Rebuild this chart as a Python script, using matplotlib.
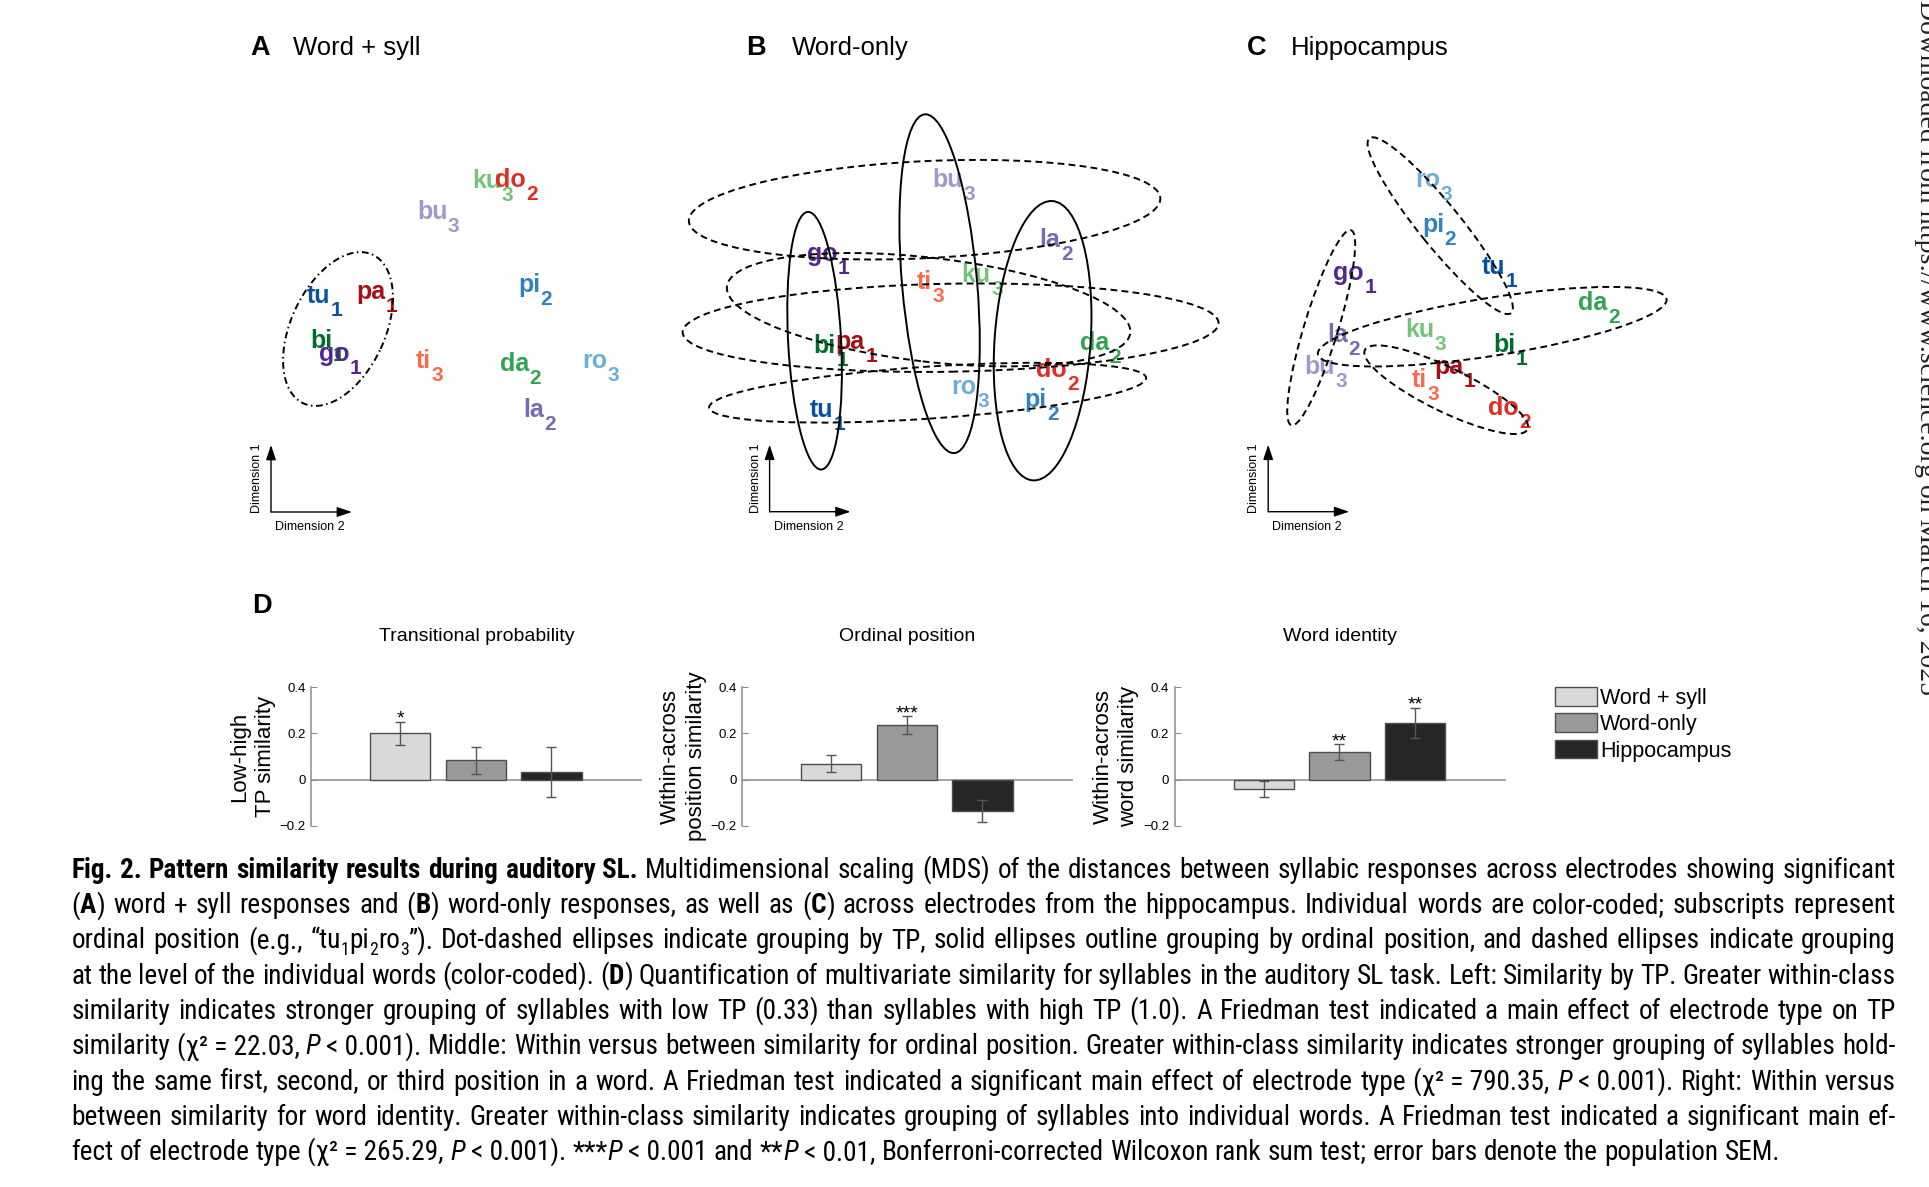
import re
import matplotlib
matplotlib.use('Agg')
import matplotlib.pyplot as plt
from matplotlib.patches import Ellipse, Patch
from matplotlib.transforms import IdentityTransform
from matplotlib import font_manager

W, H = 1929, 1187
plt.rcParams['font.family'] = ['Liberation Sans', 'DejaVu Sans']

# syllables in word order: tu-pi-ro, go-la-bu, bi-da-ku, pa-do-ti
syllables = ['tu', 'pi', 'ro', 'go', 'la', 'bu', 'bi', 'da', 'ku', 'pa', 'do', 'ti']
positions = ['1', '2', '3'] * 4
syl_colors = ['#08519c', '#3182bd', '#6baed6', '#54278f', '#756bb1', '#9e9ac8',
              '#006d2c', '#31a354', '#74c476', '#a50f15', '#de2d26', '#fb6a4a']
draw_order = [6, 8, 0, 1, 2, 3, 4, 5, 7, 11, 9, 10]

# MDS coordinates (Dimension 2, Dimension 1), arbitrary units
A_dim2 = [0.36, 2.47, 3.11, 0.48, 2.52, 1.46, 0.39, 2.29, 2.01, 0.85, 2.24, 1.45]
A_dim1 = [2.09, 2.20, 1.44, 1.51, 0.95, 2.93, 1.64, 1.41, 3.24, 2.13, 3.25, 1.44]
B_dim2 = [0.40, 2.55, 1.82, 0.37, 2.70, 1.63, 0.44, 3.10, 1.92, 0.66, 2.66, 1.47]
B_dim1 = [0.95, 1.05, 1.18, 2.51, 2.65, 3.25, 1.59, 1.62, 2.30, 1.63, 1.35, 2.23]
C_dim2 = [2.14, 1.54, 1.47, 0.65, 0.59, 0.36, 2.25, 3.10, 1.37, 1.66, 2.20, 1.44]
C_dim1 = [2.38, 2.80, 3.25, 2.32, 1.70, 1.38, 1.60, 2.02, 1.75, 1.38, 0.97, 1.25]

# grouping ellipses: (center dim2, center dim1, major, minor, angle)
A_tp_ell = [(0.67, 1.83, 1.64, 0.94, 65)]
B_pos_ell = [(0.45, 1.71, 2.58, 0.53, 93), (2.73, 1.71, 2.80, 0.96, 86),
             (1.70, 2.28, 3.40, 0.75, 95)]
B_word_ell = [(1.58, 1.19, 4.38, 0.52, 3.9), (1.55, 3.02, 4.72, 0.97, 2.8),
              (1.81, 1.84, 5.36, 0.88, 1.0), (1.59, 2.02, 4.06, 1.04, -6.6)]
C_word_ell = [(1.72, 2.86, 2.25, 0.42, -51), (0.53, 1.84, 2.04, 0.34, 73),
              (2.24, 1.85, 3.53, 0.58, 9), (1.78, 1.22, 1.81, 0.44, -26)]

# panel D
conditions = ['Word + syll', 'Word-only', 'Hippocampus']
bar_colors = ['#d9d9d9', '#999999', '#262626']
tp_mean = [0.200, 0.083, 0.032]
tp_sem = [0.050, 0.058, 0.108]
tp_stars = ['*', '', '']
ord_mean = [0.068, 0.236, -0.135]
ord_sem = [0.037, 0.037, 0.048]
ord_stars = ['', '***', '']
word_mean = [-0.041, 0.119, 0.245]
word_sem = [0.034, 0.034, 0.066]
word_stars = ['', '**', '**']
d_titles = ['Transitional probability', 'Ordinal position', 'Word identity']
d_ylabels = ['Low-high\nTP similarity', 'Within-across\nposition similarity',
             'Within-across\nword similarity']
yticks = [-0.2, 0, 0.2, 0.4]
ytick_labels = ['\u22120.2', '0', '0.2', '0.4']

caption = [
    "<b>Fig. 2. Pattern similarity results during auditory SL.</b> Multidimensional scaling (MDS) of the distances between syllabic responses across electrodes showing significant",
    "(<b>A</b>) word + syll responses and (<b>B</b>) word-only responses, as well as (<b>C</b>) across electrodes from the hippocampus. Individual words are color-coded; subscripts represent",
    "ordinal position (e.g., \u201ctu<sub>1</sub>pi<sub>2</sub>ro<sub>3</sub>\u201d). Dot-dashed ellipses indicate grouping by TP, solid ellipses outline grouping by ordinal position, and dashed ellipses indicate grouping",
    "at the level of the individual words (color-coded). (<b>D</b>) Quantification of multivariate similarity for syllables in the auditory SL task. Left: Similarity by TP. Greater within-class",
    "similarity indicates stronger grouping of syllables with low TP (0.33) than syllables with high TP (1.0). A Friedman test indicated a main effect of electrode type on TP",
    "similarity (\u03c7\u00b2~=~22.03, <i>P</i>~<~0.001). Middle: Within versus between similarity for ordinal position. Greater within-class similarity indicates stronger grouping of syllables hold-",
    "ing the same first, second, or third position in a word. A Friedman test indicated a significant main effect of electrode type (\u03c7\u00b2~=~790.35, <i>P</i>~<~0.001). Right: Within versus",
    "between similarity for word identity. Greater within-class similarity indicates grouping of syllables into individual words. A Friedman test indicated a significant main ef-",
    "fect of electrode type (\u03c7\u00b2~=~265.29, <i>P</i>~<~0.001). ***<i>P</i>~<~0.001 and **<i>P</i>~<~0.01, Bonferroni-corrected Wilcoxon rank sum test; error bars denote the population SEM.",
]


def fx(x):
    return x / W


def fy(y):
    return 1 - y / H


fig = plt.figure(figsize=(W / 100, H / 100), dpi=100)

# ---------------- MDS panels A-C ----------------
for letter, title, lx, tx in [('A', 'Word + syll', 250, 293), ('B', 'Word-only', 746, 792),
                              ('C', 'Hippocampus', 1247, 1291)]:
    fig.text(fx(lx), fy(55), letter, fontsize=19.5, fontweight='bold', va='baseline')
    fig.text(fx(tx), fy(55), title, fontsize=18.5, va='baseline')

arrow = dict(arrowstyle='-|>,head_length=0.9,head_width=0.3', lw=1.0, color='k',
             shrinkA=0, shrinkB=0, mutation_scale=10)
dashed = (0, (3.5, 2.2))
dashdot = (0, (3.5, 1.8, 0.8, 1.8))


def mds_panel(cx, cy, d2, d1, groups):
    L, R, T, B = cx - 110, cx + 460, 80, 545
    ax = fig.add_axes([fx(L), fy(B), (R - L) / W, (B - T) / H])
    ax.set_facecolor('none')
    ax.set_xlim((L - cx) / 100, (R - cx) / 100)
    ax.set_ylim((cy - B) / 100, (cy - T) / 100)
    ax.axis('off')
    ax.annotate('', xy=(0.81, 0), xytext=(0, 0), arrowprops=arrow)
    ax.annotate('', xy=(0, 0.67), xytext=(0, 0), arrowprops=arrow)
    ax.text(0.39, -0.15, 'Dimension 2', ha='center', va='center', fontsize=9)
    ax.text(-0.14, 0.34, 'Dimension 1', rotation=90, ha='center', va='center', fontsize=9)
    for i in draw_order:
        t = ax.text(d2[i], d1[i], syllables[i], color=syl_colors[i], fontsize=18,
                    fontweight='bold', va='baseline', zorder=2)
        ax.annotate(positions[i], xy=(1, 0), xycoords=t, xytext=(0.3, -5.8),
                    textcoords='offset points', color=syl_colors[i], fontsize=15,
                    fontweight='bold', va='baseline', zorder=2)
    for ells, ls in groups:
        for (x, y, w, h, a) in ells:
            ax.add_patch(Ellipse((x, y), w, h, angle=a, fill=False, ec='k', lw=1.4,
                                 ls=ls, zorder=3, clip_on=False))


mds_panel(271, 512, A_dim2, A_dim1, [(A_tp_ell, dashdot)])
mds_panel(769.6, 511.7, B_dim2, B_dim1, [(B_pos_ell, '-'), (B_word_ell, dashed)])
mds_panel(1268.2, 511.7, C_dim2, C_dim1, [(C_word_ell, dashed)])

# ---------------- panel D ----------------
fig.text(fx(252), fy(613), 'D', fontsize=19.5, fontweight='bold', va='baseline')
gray = '#8c8c8c'
edge = '#4d4d4d'
xpos = [1, 2, 3]
d_means = [tp_mean, ord_mean, word_mean]
d_sems = [tp_sem, ord_sem, word_sem]
d_stars = [tp_stars, ord_stars, word_stars]
for k, left in enumerate([311, 742, 1174.6]):
    ax = fig.add_axes([fx(left), fy(826), 331 / W, 139 / H])
    ax.bar(xpos, d_means[k], width=0.8, color=bar_colors, edgecolor=edge, linewidth=1,
           yerr=d_sems[k], error_kw=dict(ecolor='#555555', elinewidth=1, capsize=3.6, capthick=1),
           zorder=2)
    ax.axhline(0, color=gray, lw=1.1, zorder=1)
    for x, m, s, st in zip(xpos, d_means[k], d_sems[k], d_stars[k]):
        if st:
            ax.annotate(st, xy=(x, m + s), xytext=(0, -1.5), textcoords='offset points',
                        ha='center', va='baseline', fontsize=14)
    ax.set_xlim(-0.18, 4.2)
    ax.set_ylim(-0.2, 0.4)
    ax.set_xticks([])
    ax.set_yticks(yticks)
    ax.set_yticklabels(ytick_labels)
    ax.tick_params(axis='y', direction='in', length=4, color=gray, labelsize=9.5, pad=4)
    for sp in ['top', 'right', 'bottom']:
        ax.spines[sp].set_visible(False)
    ax.spines['left'].set_color(gray)
    ax.spines['left'].set_linewidth(1.1)
    ax.set_facecolor('none')
    ax.text(0.5, (641 - 826) / -139, d_titles[k], transform=ax.transAxes, ha='center',
            va='baseline', fontsize=14)
    ax.text(-0.177, 0.5, d_ylabels[k], transform=ax.transAxes, rotation=90, ha='center',
            va='center', fontsize=16, linespacing=1.3, multialignment='center')

handles = [Patch(facecolor=c, edgecolor=edge, linewidth=1) for c in bar_colors]
fig.legend(handles, conditions, loc='upper left', bbox_to_anchor=(fx(1554.6), fy(687)),
           frameon=False, fontsize=15.5, handlelength=1.95, handleheight=0.95,
           handletextpad=0.15, labelspacing=0.22, borderpad=0, borderaxespad=0)

# ---------------- caption (justified) ----------------
names = {f.name for f in font_manager.fontManager.ttflist}
cap_family = ['Liberation Sans', 'DejaVu Sans']
for cand in ['Liberation Sans Narrow', 'Roboto Condensed', 'Open Sans Condensed',
             'Noto Sans Condensed', 'Arial Narrow']:
    if cand in names:
        cap_family = [cand, 'DejaVu Sans']
        break

renderer = fig.canvas.get_renderer()
tr = IdentityTransform()
cap_left, cap_right, cap_base, cap_step = 71.4, 1895.7, 878, 35.25
last_width = 1779 - cap_left

parsed = []
bold = ital = False
for line in caption:
    words = []
    for tok in line.split(' '):
        runs = []
        for part in re.split(r'(</?b>|</?i>|<sub>.*?</sub>)', tok):
            if part in ('<b>', '</b>'):
                bold = part == '<b>'
                continue
            if part in ('<i>', '</i>'):
                ital = part == '<i>'
                continue
            if not part:
                continue
            sub = part.startswith('<sub>')
            if sub:
                part = part[5:-6]
            t = fig.text(0, 0, part.replace('~', ' '), transform=tr, family=cap_family,
                         fontweight='bold' if bold else 'normal',
                         fontstyle='italic' if ital else 'normal', va='baseline')
            runs.append((t, sub))
        words.append(runs)
    parsed.append(words)
space_t = fig.text(0, 0, 'x x', transform=tr, family=cap_family)
nospace_t = fig.text(0, 0, 'xx', transform=tr, family=cap_family)


def measure(size):
    for words in parsed:
        for runs in words:
            for t, sub in runs:
                t.set_fontsize(size * 0.65 if sub else size)
    space_t.set_fontsize(size)
    nospace_t.set_fontsize(size)
    sp = space_t.get_window_extent(renderer).width - nospace_t.get_window_extent(renderer).width
    widths = [[sum(t.get_window_extent(renderer).width for t, _ in runs) for runs in words]
              for words in parsed]
    return sp, widths


size = 18.0
sp, widths = measure(size)
nat = sum(widths[-1]) + sp * (len(widths[-1]) - 1)
size *= last_width / nat
sp, widths = measure(size)
worst = max((sum(w) + 0.7 * sp * (len(w) - 1)) / (cap_right - cap_left) for w in widths[:-1])
if worst > 1:
    size /= worst
    sp, widths = measure(size)
space_t.set_visible(False)
nospace_t.set_visible(False)

for i, words in enumerate(parsed):
    y = H - (cap_base + i * cap_step)
    ws = widths[i]
    if i < len(parsed) - 1:
        gap = (cap_right - cap_left - sum(ws)) / (len(ws) - 1)
    else:
        gap = sp
    x = cap_left
    for runs, w in zip(words, ws):
        xx = x
        for t, sub in runs:
            t.set_position((xx, y - (0.25 * size * 100 / 72 if sub else 0)))
            xx += t.get_window_extent(renderer).width
        x += w + gap

# cropped watermark on the right edge
fig.text(fx(1914), 1.0, 'Downloaded from https://www.science.org on March 16, 2025',
         rotation=-90, ha='left', va='top', fontsize=20, family='Liberation Serif',
         color='#222222')

fig.savefig('out.png', dpi=100, facecolor='white')
